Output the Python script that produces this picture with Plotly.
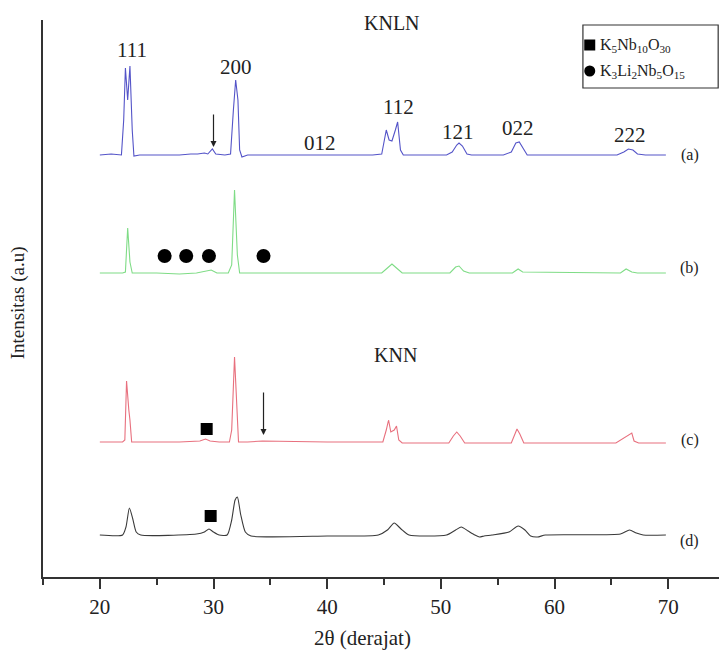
import plotly.graph_objects as go

# ---- data (2θ in degrees, intensity in a.u., curves stacked with offsets) ----
tt_a = [20.0, 21.0, 21.9, 22.1, 22.25, 22.45, 22.65, 22.85, 23.0, 23.5, 25.0, 27.0, 28.0, 28.6, 29.2, 29.5, 29.9, 30.2,
        31.0, 31.5, 31.75, 31.95, 32.15, 32.3, 32.5, 33.0, 35.0, 40.0, 44.0, 44.8, 45.0, 45.2, 45.45, 45.7, 46.0, 46.2,
        46.45, 46.7, 50.5, 51.0, 51.4, 51.6, 51.9, 52.3, 52.7, 55.5, 56.2, 56.6, 56.9, 57.2, 57.6, 65.5, 66.1, 66.5,
        66.9, 67.3, 68.0, 69.8]
int_a = [422, 423, 422, 457, 509, 477, 511, 447, 421, 422, 422, 422, 423, 423, 424, 423, 428, 423,
         422, 423, 467, 497, 477, 427, 420, 422, 422, 422, 422, 423, 437, 447, 437, 436, 447, 455,
         427, 422, 422, 425, 432, 434, 431, 423, 422, 422, 425, 434, 435, 429, 422, 422, 425, 428,
         427, 423, 422, 422]

tt_b = [20.0, 22.0, 22.25, 22.45, 22.65, 22.85, 25.0, 27.0, 28.5, 29.2, 29.8, 30.3, 31.3, 31.6, 31.85, 32.1, 32.3,
        35.0, 44.8, 45.3, 45.7, 46.1, 46.6, 50.8, 51.3, 51.6, 52.0, 52.5, 56.3, 56.8, 57.2, 65.8, 66.3, 66.8, 67.3, 69.8]
int_b = [304, 304, 305, 349, 315, 304, 304, 303, 304, 306, 307, 304, 304, 312, 387, 322, 304,
         304, 304, 309, 313, 309, 304, 304, 310, 311, 306, 304, 304, 308, 305, 304, 308, 305, 304, 304]

tt_c = [20.0, 22.0, 22.2, 22.35, 22.55, 22.65, 22.8, 23.0, 27.0, 28.8, 29.3, 29.7, 30.5, 31.4, 31.6, 31.85, 32.05,
        32.2, 33.0, 34.3, 40.0, 44.9, 45.2, 45.4, 45.6, 45.9, 46.1, 46.3, 46.6, 50.7, 51.1, 51.4, 51.7, 52.1, 56.2,
        56.5, 56.7, 56.95, 57.3, 65.4, 66.3, 66.8, 67.0, 67.4, 69.8]
int_c = [135, 135, 137, 196, 167, 157, 135, 135, 135, 136, 138, 136, 135, 135, 147, 220, 177,
         135, 135, 136, 135, 135, 147, 157, 145, 147, 151, 137, 134, 134, 141, 145, 141, 134, 134,
         143, 148, 143, 134, 134, 141, 144, 136, 134, 134]

tt_d = [20.0, 22.0, 22.3, 22.6, 22.9, 23.2, 23.6, 28.5, 29.2, 29.6, 30.0, 30.5, 31.2, 31.6, 31.9, 32.1, 32.4, 32.8,
        33.3, 40.0, 44.5, 45.3, 45.9, 46.5, 47.2, 50.5, 51.3, 51.8, 52.4, 53.0, 53.4, 53.8, 54.5, 56.0, 56.8, 57.4,
        57.9, 58.5, 59.2, 65.8, 66.6, 67.2, 67.8, 69.8]
int_d = [42, 42, 50, 69, 58, 45, 42, 43, 45, 48, 45, 42, 42, 57, 77, 80, 62, 45,
         41, 41, 42, 47, 54, 48, 42, 42, 47, 50, 46, 42, 40, 41, 42, 45, 51, 47,
         41, 40, 42, 43, 47, 44, 42, 42]

# phase markers
circle_tt = [25.7, 27.6, 29.6, 34.4]
circle_int = [321, 321, 321, 321]
square_tt = [29.4, 29.75]
square_int = [148, 61]

# Miller index labels on curve (a)
hkl_labels = ["111", "200", "012", "112", "121", "022", "222"]
hkl_tt = [22.8, 32.0, 39.4, 46.3, 51.5, 56.8, 66.6]
hkl_int = [527, 510, 434, 470, 445, 449, 442]

curve_labels = ["(a)", "(b)", "(c)", "(d)"]
curve_label_int = [422, 309, 137, 36]

x_ticks = [20, 30, 40, 50, 60, 70]

SERIF = "Liberation Serif"
TXT = "#222222"

fig = go.Figure()
line_w = 1.1
fig.add_trace(go.Scatter(x=tt_a, y=int_a, mode="lines", line=dict(color="#5454c8", width=line_w), showlegend=False))
fig.add_trace(go.Scatter(x=tt_b, y=int_b, mode="lines", line=dict(color="#7fdc86", width=line_w), showlegend=False))
fig.add_trace(go.Scatter(x=tt_c, y=int_c, mode="lines", line=dict(color="#e8707e", width=line_w), showlegend=False))
fig.add_trace(go.Scatter(x=tt_d, y=int_d, mode="lines", line=dict(color="#3a3a3a", width=line_w, shape="spline", smoothing=0.6), showlegend=False))

fig.add_trace(go.Scatter(x=circle_tt, y=circle_int, mode="markers",
                         marker=dict(symbol="circle", size=14, color="black"), showlegend=False))
fig.add_trace(go.Scatter(x=square_tt, y=square_int, mode="markers",
                         marker=dict(symbol="square", size=12, color="black"), showlegend=False))

# in-plot legend markers
fig.add_trace(go.Scatter(x=[63.1, 63.1], y=[532, 506], mode="markers",
                         marker=dict(symbol=["square", "circle"], size=11, color="black"), showlegend=False))

annotations = []
for t, x, y in zip(hkl_labels, hkl_tt, hkl_int):
    annotations.append(dict(x=x, y=y, text=t, showarrow=False, font=dict(family=SERIF, size=21, color=TXT),
                            xanchor="center", yanchor="middle"))
for t, y in zip(curve_labels, curve_label_int):
    annotations.append(dict(x=71.9, y=y, text=t, showarrow=False, font=dict(family=SERIF, size=16, color=TXT),
                            xanchor="center", yanchor="middle"))
annotations.append(dict(x=45.7, y=554, text="KNLN", showarrow=False, font=dict(family=SERIF, size=20, color=TXT),
                        xanchor="center", yanchor="middle"))
annotations.append(dict(x=46.0, y=222, text="KNN", showarrow=False, font=dict(family=SERIF, size=20, color=TXT),
                        xanchor="center", yanchor="middle"))
# arrows
annotations.append(dict(x=30.0, y=430, ax=30.0, ay=464, axref="x", ayref="y", xref="x", yref="y", text="",
                        showarrow=True, arrowhead=2, arrowsize=1, arrowwidth=1.2, arrowcolor=TXT))
annotations.append(dict(x=34.4, y=142, ax=34.4, ay=186, axref="x", ayref="y", xref="x", yref="y", text="",
                        showarrow=True, arrowhead=2, arrowsize=1, arrowwidth=1.2, arrowcolor=TXT))
# legend texts
annotations.append(dict(x=63.85, y=532, text="K<sub>5</sub>Nb<sub>10</sub>O<sub>30</sub>", showarrow=False,
                        font=dict(family=SERIF, size=16, color=TXT), xanchor="left", yanchor="middle"))
annotations.append(dict(x=63.85, y=506, text="K<sub>3</sub>Li<sub>2</sub>Nb<sub>5</sub>O<sub>15</sub>", showarrow=False,
                        font=dict(family=SERIF, size=16, color=TXT), xanchor="left", yanchor="middle"))
# axis titles
annotations.append(dict(xref="paper", yref="paper", x=0.468, y=-0.11, text="2θ (derajat)", showarrow=False,
                        font=dict(family=SERIF, size=21, color=TXT), xanchor="center", yanchor="middle"))
annotations.append(dict(xref="paper", yref="paper", x=-0.0367, y=0.493, text="Intensitas (a.u)", showarrow=False,
                        textangle=-90, font=dict(family=SERIF, size=19, color=TXT), xanchor="center", yanchor="middle"))

fig.add_shape(type="rect", x0=62.5, x1=74.4, y0=489, y1=552, xref="x", yref="y",
              line=dict(color="#333", width=1.2), fillcolor="rgba(0,0,0,0)")
fig.add_shape(type="line", xref="paper", yref="paper", x0=0, x1=0, y0=0, y1=-0.011,
              line=dict(color="#333", width=2))

fig.update_layout(
    width=727, height=653,
    margin=dict(l=35, r=10, t=12, b=84, autoexpand=False),
    paper_bgcolor="white", plot_bgcolor="white",
    annotations=annotations,
    font=dict(family=SERIF, size=17, color=TXT),
)
fig.update_xaxes(range=[15, 75], showline=True, linecolor="#333", linewidth=2, ticks="outside", ticklen=10,
                 tickwidth=1.5, tickcolor="#333", tickvals=x_ticks, showgrid=False, zeroline=False, automargin=False,
                 minor=dict(ticks="outside", ticklen=6, tickwidth=1.5, tickcolor="#333", dtick=5, tick0=15),
                 tickfont=dict(family=SERIF, size=21, color=TXT))
fig.update_yaxes(range=[0, 557], showline=True, linecolor="#333", linewidth=2, showticklabels=False, ticks="",
                 showgrid=False, zeroline=False, automargin=False)

fig.write_html("out.html")
